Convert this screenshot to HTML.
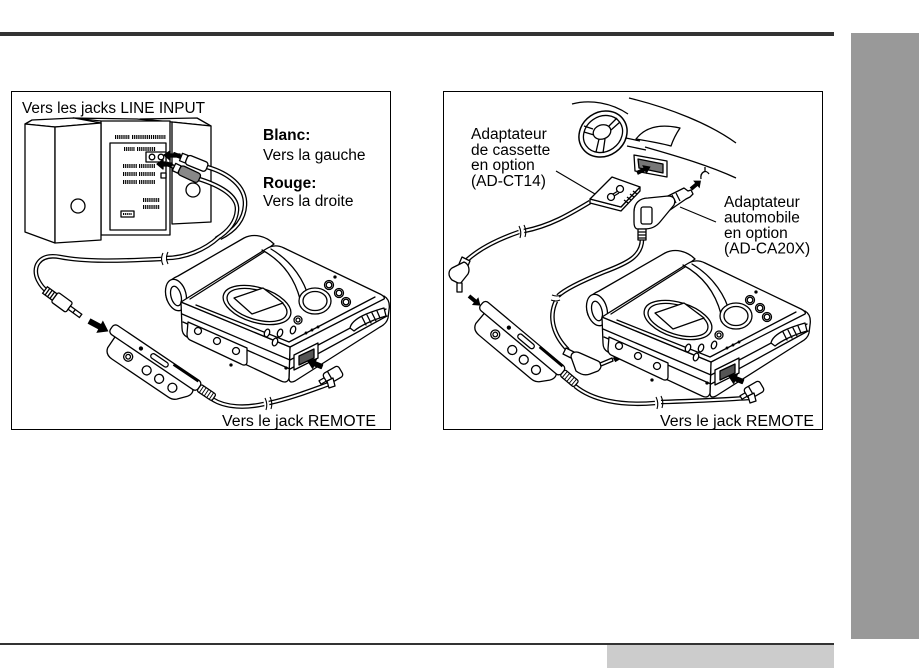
<!DOCTYPE html>
<html><head><meta charset="utf-8"><style>
html,body{margin:0;padding:0;background:#fff;width:923px;height:668px;overflow:hidden;}
svg{display:block;}
text{font-family:"Liberation Sans",Arial,sans-serif;font-size:15.5px;fill:#000;}
.b{font-weight:bold;}
</style></head><body>
<svg width="923" height="668" viewBox="0 0 923 668" xmlns="http://www.w3.org/2000/svg" xmlns:xlink="http://www.w3.org/1999/xlink">
<defs>
 <path id="c1" d="M207,167 C228,173 246,186 245,205 C244,222 232,232 220,238"/>
 <path id="c2" d="M199,179 C218,185 238,195 237,210 C236,224 226,233 216,239"/>
 <path id="c3" d="M219,237 C205,250 185,258 166,258"/>
 <path id="c4" d="M161,259 C120,261 85,262 60,257 C38,253 32,268 38,280 C41,286 44,289 47,291"/>
 <path id="c5" d="M212,399 C226,408 246,408 264,404"/>
 <path id="c6" d="M269,403 C292,398 312,390 329,384"/>
 <path id="r1" d="M590,202 C570,214 550,226 524,231"/>
 <path id="r2" d="M519,232 C496,240 478,250 467,260"/>
 <path id="r3" d="M642,239 C642,256 628,263 604,272 C582,281 564,290 558,296"/>
 <path id="r4" d="M556,301 C548,318 554,336 568,350"/>
 <path id="r5" d="M575,386 C592,400 620,406 655,403"/>
 <path id="r6" d="M661,402 C700,401 730,399 750,398"/>

 <g id="remote" fill="#fff" stroke="#000" stroke-width="1.3" stroke-linejoin="round">
  <path d="M8,2 L100,2 C104,3 104,8 101,12 L94,20 C92,22 89,23 86,23 L18,23 C12,23 9,20 8,16 Z"/>
  <rect x="0" y="-8" width="106" height="11" rx="4"/>
  <circle cx="30" cy="12" r="4.5"/><circle cx="30" cy="12" r="2.3"/>
  <circle cx="53" cy="13" r="4.5"/><circle cx="68" cy="13" r="4.5"/><circle cx="84" cy="13" r="4.5"/>
  <rect x="48" y="-5" width="20" height="5" rx="2.5"/>
  <circle cx="36" cy="-2" r="1.5" fill="#000"/>
  <line x1="72" y1="-7" x2="102" y2="-7" stroke-width="2.8"/>
  <rect x="106" y="-6" width="18" height="8" rx="2"/>
  <path d="M109,-6 V2 M112,-6 V2 M115,-6 V2 M118,-6 V2 M121,-6 V2" stroke-width="0.9"/>
 </g>

 <g id="rplug" stroke="#000" stroke-width="1.3" fill="#fff" stroke-linejoin="round">
  <g transform="translate(333,375) rotate(-30)">
   <rect x="-15" y="-2" width="7" height="4"/>
   <rect x="-9" y="-6" width="18" height="12" rx="3"/>
   <line x1="-3" y1="-6" x2="-3" y2="6"/>
  </g>
  <path d="M327,381 L333,378 L335,386 L329,388 Z"/>
  <polygon transform="translate(308,361) rotate(22)" points="0,0 7,-5 7,-2 15,-2 15,2 7,2 7,5" fill="#000"/>
 </g>

 <g id="dev" stroke="#000" stroke-width="1.3" fill="#fff" stroke-linejoin="round" stroke-linecap="round">
  <path d="M167,300 C163,288 168,280 178,276 L244,238 C254,233 266,236 274,244 L200,300 Z"/>
  <ellipse cx="176" cy="295" rx="10" ry="16" transform="rotate(-15 176 295)"/>
  <ellipse cx="176" cy="296" rx="5" ry="10" transform="rotate(-15 176 296)"/>
  <path d="M290,347 L384,296 C389,299 390,304 389,310 L388,318 C387,322 384,325 380,327 L295,381 C291,383 289,382 289,378 Z"/>
  <path d="M181,302 L290,347 L289,378 C288,382 285,383 281,381 L187,337 C183,335 182,332 182,328 Z"/>
  <path d="M181,302 L266,249 C272,245 278,245 284,248 L380,294 C384,296 385,298 384,299 L290,347 Z"/>
  <path d="M182,314 L290,360 L386,309 M183,322 L290,369 L387,316" fill="none"/>
  <path d="M190,299 L264,252" fill="none"/>
  <path d="M262,250 C284,262 295,280 300,299 M271,249 C293,262 305,282 309,299" fill="none"/>
  <path d="M196,305 L289,342 L375,297" fill="none"/>
  <ellipse cx="257" cy="305" rx="35" ry="17.5" transform="rotate(17 257 305)"/>
  <ellipse cx="257" cy="305" rx="31" ry="14.5" transform="rotate(17 257 305)"/>
  <polygon points="234,298 263,288 283,303 252,314"/>
  <ellipse cx="315" cy="301" rx="16" ry="13"/>
  <ellipse cx="315" cy="301" rx="12" ry="9.5"/>
  <circle cx="329" cy="285" r="4.5"/><circle cx="329" cy="285" r="2.8"/>
  <circle cx="339" cy="293" r="4.5"/><circle cx="339" cy="293" r="2.8"/>
  <circle cx="346" cy="302" r="4.5"/><circle cx="346" cy="302" r="2.8"/>
  <circle cx="335" cy="277" r="1" fill="#000"/>
  <ellipse cx="267" cy="333" rx="2.5" ry="4" transform="rotate(20 267 333)"/>
  <ellipse cx="280" cy="333" rx="2.5" ry="4" transform="rotate(20 280 333)"/>
  <ellipse cx="293" cy="330" rx="2.5" ry="4" transform="rotate(20 293 330)"/>
  <ellipse cx="275" cy="342" rx="2.5" ry="4" transform="rotate(20 275 342)"/>
  <circle cx="298" cy="320" r="4"/><circle cx="298" cy="320" r="2"/>
  <path d="M350,328 C352,318 370,312 384,308 L386,316 C372,320 360,326 354,331 Z"/>
  <path d="M362,317 L366,325 M367,315 L371,323 M372,313 L376,321 M377,311 L380,318" fill="none"/>
  <path d="M188,322 L247,348 L247,362 C247,365 244,366 241,364 L190,340 C188,339 187,337 187,334 Z"/>
  <circle cx="198" cy="331" r="3.5"/><circle cx="217" cy="341" r="3.5"/><circle cx="236" cy="351" r="3.5"/>
  <polygon points="294,355 318,343 318,358 294,370"/>
  <polygon points="299,356 314,349 314,358 299,365" fill="#555"/>
  <circle cx="306" cy="333" r="0.8" fill="#000"/><circle cx="312" cy="330" r="0.8" fill="#000"/><circle cx="318" cy="327" r="0.8" fill="#000"/>
  <circle cx="286" cy="368" r="1" fill="#000"/><circle cx="231" cy="365" r="1" fill="#000"/>
 </g>
</defs>

<rect x="0" y="32" width="834" height="4" fill="#333"/>
<rect x="851" y="33" width="68" height="606" fill="#999"/>
<rect x="0" y="643" width="834" height="2" fill="#333"/>
<rect x="607" y="645" width="227" height="23" fill="#ccc"/>

<rect x="11.5" y="91.5" width="379" height="338" fill="none" stroke="#000" stroke-width="1"/>
<rect x="443.5" y="91.5" width="379" height="338" fill="none" stroke="#000" stroke-width="1"/>

<g fill="#fff" stroke="#000" stroke-width="1.3" stroke-linejoin="round">
 <polygon points="140,119 197,118 211,126 172,122"/>
 <polygon points="172,122 211,126 211,222 172,224"/>
 <circle cx="193" cy="190" r="7"/>
 <polygon points="73,118 137,119 169,122 101,121"/>
 <rect x="101" y="121" width="69" height="114"/>
 <rect x="110" y="143" width="56" height="87"/>
 <rect x="146" y="152" width="20" height="10"/>
 <circle cx="152" cy="157" r="2.8"/><circle cx="161" cy="157" r="2.8"/>
 <rect x="161" y="173" width="5" height="5"/>
 <rect x="121" y="211" width="13" height="6"/>
 <polygon points="25,124 32,120 74,118 101,123 55,127"/>
 <polygon points="25,124 55,127 55,243 25,232"/>
 <polygon points="55,127 101,123 101,240 55,243"/>
 <circle cx="78" cy="206" r="7"/>
</g>
<g stroke="#000" stroke-dasharray="1.2,0.9" fill="none" stroke-width="4">
 <line x1="115" y1="137" x2="130" y2="137"/><line x1="132" y1="137" x2="166" y2="137"/>
 <line x1="124" y1="149" x2="135" y2="149"/><line x1="137" y1="149" x2="156" y2="149"/>
 <line x1="123" y1="166" x2="137" y2="166"/><line x1="139" y1="166" x2="155" y2="166"/>
 <line x1="123" y1="174" x2="137" y2="174"/><line x1="139" y1="174" x2="155" y2="174"/>
 <line x1="123" y1="182" x2="137" y2="182"/><line x1="139" y1="182" x2="155" y2="182"/>
 <line x1="143" y1="200" x2="160" y2="200"/><line x1="143" y1="207" x2="160" y2="207"/>
 <line x1="123" y1="214" x2="132" y2="214" stroke-width="2"/>
</g>

<g fill="none" stroke-linecap="butt">
 <use xlink:href="#c1" stroke="#000" stroke-width="4.6"/><use xlink:href="#c1" stroke="#fff" stroke-width="2"/>
 <use xlink:href="#c2" stroke="#000" stroke-width="4.6"/><use xlink:href="#c2" stroke="#fff" stroke-width="2"/>
 <use xlink:href="#c3" stroke="#000" stroke-width="4.6"/><use xlink:href="#c3" stroke="#fff" stroke-width="2"/>
 <use xlink:href="#c4" stroke="#000" stroke-width="4.6"/><use xlink:href="#c4" stroke="#fff" stroke-width="2"/>
 <use xlink:href="#c5" stroke="#000" stroke-width="4.6"/><use xlink:href="#c5" stroke="#fff" stroke-width="2"/>
 <use xlink:href="#c6" stroke="#000" stroke-width="4.6"/><use xlink:href="#c6" stroke="#fff" stroke-width="2"/>
</g>
<g fill="none" stroke="#000" stroke-width="1.1">
 <path d="M168,252 Q165,258 168,264 M163,253 Q160,259 163,265"/>
 <path d="M265,398 Q268,404 266,410 M270,397 Q273,403 271,409"/>
</g>

<g stroke="#000" stroke-width="1.3" stroke-linejoin="round">
 <g transform="translate(181,157) rotate(22)" fill="#fff">
  <rect x="-8" y="-1.5" width="8" height="3"/>
  <rect x="0" y="-4" width="6" height="8"/>
  <rect x="6" y="-5" width="22" height="10" rx="3"/>
 </g>
 <g transform="translate(174,167) rotate(25)">
  <rect x="-8" y="-1.5" width="8" height="3" fill="#fff"/>
  <rect x="0" y="-4" width="6" height="8" fill="#fff"/>
  <rect x="6" y="-5" width="22" height="10" rx="3" fill="#888"/>
 </g>
 <polygon points="164,155 170,151 170,154 180,154 180,157 170,157 170,160" fill="#000"/>
 <polygon points="157,164 163,160 163,163 172,163 172,166 163,166 163,169" fill="#000"/>
</g>

<g transform="translate(45,290) rotate(36)" stroke="#000" stroke-width="1.3" fill="#fff">
 <rect x="0" y="-4" width="12" height="8"/>
 <path d="M3,-4 V4 M6,-4 V4 M9,-4 V4" fill="none"/>
 <rect x="12" y="-6" width="18" height="12" rx="2"/>
 <rect x="30" y="-2" width="14" height="4"/>
 <line x1="36" y1="-2" x2="36" y2="2"/>
</g>
<polygon transform="translate(89,321) rotate(28)" points="0,-3 12,-3 12,-7 22,0 12,7 12,3 0,3" fill="#000"/>

<use xlink:href="#dev"/>
<use xlink:href="#remote" transform="translate(110,330) rotate(34)"/>
<use xlink:href="#rplug"/>

<text x="22" y="113" textLength="183" lengthAdjust="spacingAndGlyphs">Vers les jacks LINE INPUT</text>
<text x="263" y="140" class="b">Blanc:</text>
<text x="263" y="160">Vers la gauche</text>
<text x="263" y="188" class="b">Rouge:</text>
<text x="263" y="206">Vers la droite</text>
<text x="222" y="426" textLength="154" lengthAdjust="spacingAndGlyphs">Vers le jack REMOTE</text>

<g fill="none" stroke="#000" stroke-width="1.3" stroke-linejoin="round">
 <path d="M572,104 C590,99 612,103 628,114"/>
 <path d="M629,98 C670,108 710,124 736,143"/>
 <path d="M645,147 C680,157 710,166 736,178"/>
 <path d="M636,139 C646,126 662,124 680,128 C676,134 673,140 671,146 C660,143 648,141 636,139 Z" fill="#fff"/>
 <path d="M626,138 L640,141 M627,146 L646,150"/>
 <ellipse cx="603" cy="134" rx="25" ry="22" transform="rotate(-35 603 134)" fill="#fff" stroke-width="1.5"/>
 <ellipse cx="603" cy="134" rx="20.5" ry="17.5" transform="rotate(-35 603 134)"/>
 <ellipse cx="602" cy="132" rx="9" ry="7" transform="rotate(-20 602 132)"/>
 <path d="M593,129 L584,126 M594,135 L584,132 M609,126 L617,118 M611,130 L620,122 M599,139 L596,152 M605,139 L603,153"/>
 <polygon points="634,155 667,161 667,177 635,171" fill="#fff"/>
 <polygon points="638,159 663,164 663,173 639,168" fill="#777"/>
 <path d="M701,179 C700,172 706,169 709,174 M705,171 L705,167"/>
</g>
<polygon transform="translate(637,173) rotate(-25)" points="0,-2 8,-2 8,-5 15,0 8,5 8,2 0,2" fill="#000"/>
<polygon transform="translate(691,189) rotate(-40)" points="0,-2 7,-2 7,-5 13,0 7,5 7,2 0,2" fill="#000"/>

<g fill="none">
 <use xlink:href="#r1" stroke="#000" stroke-width="4.6"/><use xlink:href="#r1" stroke="#fff" stroke-width="2"/>
 <use xlink:href="#r2" stroke="#000" stroke-width="4.6"/><use xlink:href="#r2" stroke="#fff" stroke-width="2"/>
 <use xlink:href="#r3" stroke="#000" stroke-width="4.6"/><use xlink:href="#r3" stroke="#fff" stroke-width="2"/>
 <use xlink:href="#r4" stroke="#000" stroke-width="4.6"/><use xlink:href="#r4" stroke="#fff" stroke-width="2"/>
 <use xlink:href="#r5" stroke="#000" stroke-width="4.6"/><use xlink:href="#r5" stroke="#fff" stroke-width="2"/>
 <use xlink:href="#r6" stroke="#000" stroke-width="4.6"/><use xlink:href="#r6" stroke="#fff" stroke-width="2"/>
</g>
<g fill="none" stroke="#000" stroke-width="1.1">
 <path d="M524,225 Q527,231 525,237 M519,226 Q522,232 520,238"/>
 <path d="M552,295 Q557,297 561,295 M551,300 Q556,302 560,300"/>
 <path d="M656,397 Q659,403 657,409 M661,396 Q664,402 662,408"/>
</g>

<g stroke="#000" stroke-width="1.3" fill="#fff" stroke-linejoin="round">
 <polygon points="590,199 621,207 640,187 640,191 621,211 590,203"/>
 <polygon points="590,199 612,177 640,187 621,207"/>
 <circle cx="611" cy="197" r="3.5"/><circle cx="620" cy="189" r="3.5"/>
 <path d="M613,194 L618,191 M614,196 L619,193" fill="none"/>
 <path d="M624,200 L628,203 M627,197 L631,200 M630,194 L634,197 M633,191 L637,194" fill="none"/>
 <path d="M664,198 L684,188 L688,191 L691,190 L693,194 L690,197 L686,199 L670,210 Z"/>
 <path d="M672,195 L676,203 M676,193 L680,201" fill="none"/>
 <path d="M634,212 C634,203 640,198 648,198 L668,196 C674,196 676,200 674,205 L660,222 C656,227 650,229 644,229 L638,229 C635,229 634,226 634,222 Z"/>
 <rect x="641" y="207" width="11" height="17" rx="2"/>
 <rect x="638" y="229" width="8" height="11"/>
 <path d="M638,232 H646 M638,235 H646 M638,238 H646" fill="none"/>
 <path d="M462,257 L470,261 L467,268 L459,264 Z"/>
 <path d="M452,268 L464,262 C469,264 470,270 468,274 L460,284 L452,280 C448,276 448,271 452,268 Z"/>
 <rect x="457" y="283" width="5" height="9"/>
 <path d="M566,348 L574,352 L571,358 L563,354 Z"/>
 <path d="M571,357 C571,352 576,351 580,353 L598,361 C602,363 602,368 598,371 L590,374 C585,376 580,374 576,371 Z"/>
 <path d="M600,363 L612,358 L613,361 L601,366 Z"/>
</g>
<polygon transform="translate(469,296) rotate(40)" points="0,-2 8,-2 8,-5 15,0 8,5 8,2 0,2" fill="#000"/>
<polygon transform="translate(614,360) rotate(-30)" points="0,-2.5 8,-2.5 8,-6 15,0 8,6 8,2.5 0,2.5" fill="#000"/>

<use xlink:href="#dev" transform="translate(421,15)"/>
<use xlink:href="#remote" transform="translate(480,306) rotate(40)"/>
<use xlink:href="#rplug" transform="translate(421,15)"/>

<g stroke="#000" stroke-width="1.1">
 <line x1="556" y1="171" x2="595" y2="194"/>
 <line x1="680" y1="207" x2="716" y2="222"/>
</g>

<text x="471" y="139">Adaptateur</text>
<text x="471" y="155">de cassette</text>
<text x="471" y="170">en option</text>
<text x="471" y="186">(AD-CT14)</text>
<text x="724" y="207">Adaptateur</text>
<text x="724" y="222.5">automobile</text>
<text x="724" y="238">en option</text>
<text x="724" y="253.5">(AD-CA20X)</text>
<text x="660" y="426" textLength="154" lengthAdjust="spacingAndGlyphs">Vers le jack REMOTE</text>
</svg>
</body></html>
